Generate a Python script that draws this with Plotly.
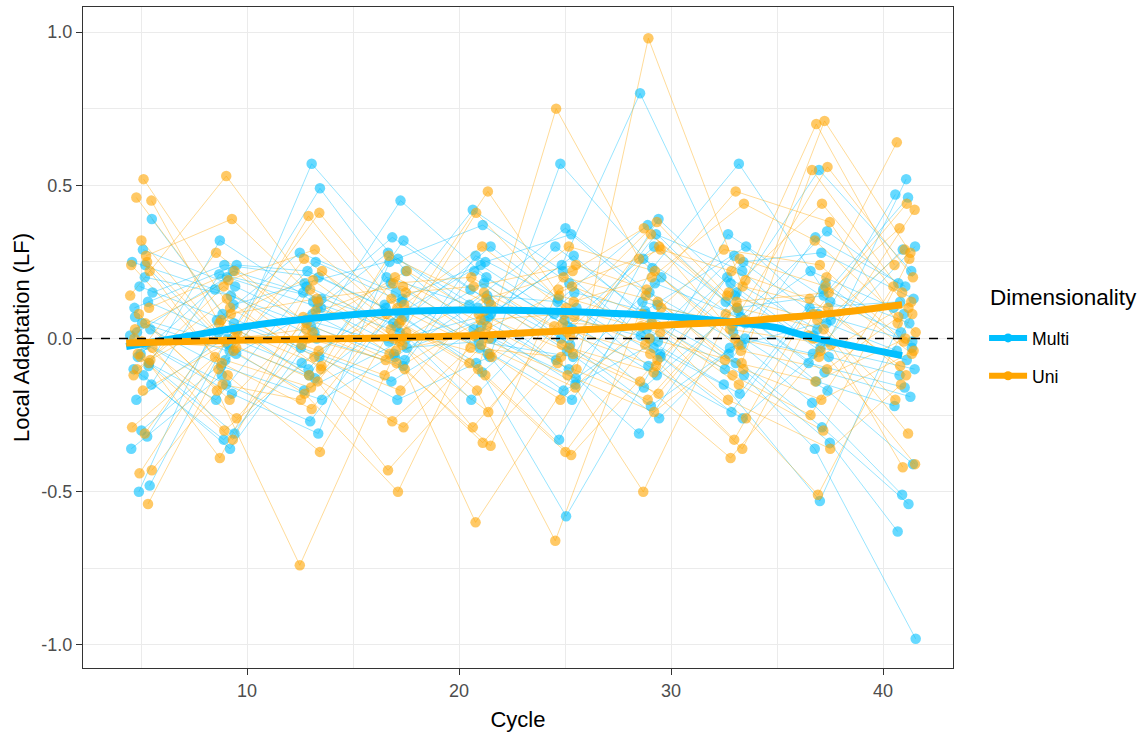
import plotly.graph_objects as go

# Sampling cycles
CYCLES = [5, 9, 13, 17, 21, 25, 29, 33, 37, 41]

# Local adaptation (LF) per cycle, multi-dimensional selection lines
MULTI_05 = [0.25, 0.2, 0.39, 0.17, 0.12, 0.07, 0.05, 0.03, 0.01, -0.02, -0.06, -0.08, -0.1, -0.12,
            -0.15, -0.2, -0.3, -0.32, -0.36, -0.48, -0.5, 0.24, 0.1, 0.15, -0.05, -0.09, 0.02, 0.29]
MULTI_09 = [0.24, 0.22, 0.32, 0.2, 0.17, 0.16, 0.14, 0.08, 0.05, 0.02, -0.02, -0.05, -0.09, -0.15,
            -0.18, -0.2, -0.31, -0.33, -0.36, 0.21, 0.03, -0.07, 0.11, -0.12, 0.0, 0.06, -0.04, 0.24]
MULTI_13 = [0.57, 0.49, 0.28, 0.25, 0.22, 0.2, 0.15, 0.12, 0.1, 0.06, 0.04, 0.0, -0.03, -0.06,
            -0.1, -0.13, -0.17, -0.2, -0.27, -0.31, 0.17, 0.08, -0.08, 0.02, 0.13, -0.12, 0.1, 0.18]
MULTI_17 = [0.45, 0.33, 0.32, 0.28, 0.26, 0.22, 0.18, 0.15, 0.12, 0.1, 0.07, 0.05, 0.02, -0.01,
            -0.03, -0.06, -0.09, -0.14, -0.2, 0.2, 0.08, 0.0, -0.05, 0.13, 0.25, 0.04, -0.07, 0.11]
MULTI_21 = [0.42, 0.37, 0.3, 0.27, 0.24, 0.2, 0.16, 0.12, 0.1, 0.06, 0.03, 0.0, -0.03, -0.05,
            -0.08, -0.11, -0.2, 0.18, 0.08, -0.01, 0.14, 0.22, 0.04, -0.06, 0.11, 0.25, 0.01, 0.07]
MULTI_25 = [0.57, 0.36, 0.34, 0.3, 0.27, 0.22, 0.18, 0.13, 0.1, 0.06, 0.03, 0.0, -0.04, -0.07,
            -0.1, -0.13, -0.17, -0.2, -0.33, -0.58, 0.15, 0.08, -0.02, 0.24, -0.06, 0.12, 0.04, -0.15]
MULTI_29 = [0.8, 0.39, 0.37, 0.3, 0.26, 0.2, 0.15, 0.11, 0.08, 0.05, 0.01, -0.03, -0.06, -0.09,
            -0.12, -0.16, -0.22, -0.26, -0.31, 0.18, 0.03, -0.01, 0.12, 0.23, -0.05, 0.09, 0.0, 0.34]
MULTI_33 = [0.57, 0.34, 0.3, 0.27, 0.22, 0.18, 0.15, 0.12, 0.09, 0.05, 0.02, -0.02, -0.05, -0.08,
            -0.12, -0.15, -0.18, -0.24, -0.26, 0.2, 0.1, 0.0, -0.03, 0.14, 0.07, -0.1, 0.25, 0.04]
MULTI_37 = [0.55, 0.35, 0.33, 0.28, 0.22, 0.16, 0.12, 0.08, 0.05, 0.01, -0.03, -0.06, -0.08, -0.11,
            -0.14, -0.17, -0.21, -0.29, -0.34, -0.36, -0.53, 0.18, 0.1, -0.01, 0.03, 0.14, -0.05, 0.06]
MULTI_41 = [0.52, 0.47, 0.46, 0.3, 0.29, 0.22, 0.18, 0.17, 0.13, 0.1, 0.05, 0.02, -0.01, -0.04,
            -0.07, -0.1, -0.12, -0.16, -0.19, -0.22, -0.41, -0.51, -0.54, -0.63, -0.98, 0.08, -0.03, 0.12]

# Local adaptation (LF) per cycle, uni-dimensional selection lines
UNI_05 = [0.52, 0.45, 0.46, 0.32, 0.25, 0.24, 0.22, 0.08, 0.05, 0.0, -0.03, -0.06, -0.08, -0.1,
          -0.17, -0.29, -0.31, -0.43, -0.44, -0.54, 0.03, -0.01, -0.07, 0.14, 0.27, -0.05, 0.1, -0.12]
UNI_09 = [0.53, 0.39, 0.28, 0.22, 0.17, 0.1, 0.05, 0.02, -0.01, -0.04, -0.08, -0.12, -0.17, -0.2,
          -0.26, -0.3, -0.33, -0.39, 0.13, 0.0, -0.06, 0.08, -0.15, 0.03, -0.1, 0.19, -0.03, 0.06]
UNI_13 = [0.41, 0.4, 0.29, 0.26, 0.22, 0.16, 0.12, 0.05, 0.02, -0.02, -0.06, -0.09, -0.12, -0.14,
          -0.18, -0.23, -0.37, -0.74, 0.09, 0.0, -0.04, 0.07, 0.19, -0.1, 0.03, -0.16, 0.13, -0.2]
UNI_17 = [0.27, 0.22, 0.2, 0.17, 0.13, 0.1, 0.08, 0.05, 0.02, 0.0, -0.02, -0.05, -0.08, -0.1,
          -0.12, -0.17, -0.27, -0.29, -0.43, -0.5, 0.15, 0.03, -0.04, 0.06, -0.07, 0.11, 0.18, -0.01]
UNI_21 = [0.48, 0.41, 0.3, 0.2, 0.15, 0.11, 0.08, 0.04, 0.01, -0.02, -0.05, -0.08, -0.12, -0.17,
          -0.24, -0.29, -0.34, -0.35, -0.6, 0.06, 0.13, -0.03, 0.0, -0.1, 0.09, 0.17, -0.06, 0.02]
UNI_25 = [0.75, 0.3, 0.24, 0.2, 0.17, 0.14, 0.1, 0.07, 0.04, 0.01, -0.02, -0.05, -0.08, -0.12,
          -0.16, -0.2, -0.37, -0.38, -0.66, 0.12, 0.05, -0.03, 0.16, -0.1, 0.08, 0.22, -0.06, 0.02]
UNI_29 = [0.98, 0.38, 0.36, 0.34, 0.3, 0.26, 0.22, 0.16, 0.12, 0.08, 0.05, 0.02, -0.02, -0.05,
          -0.09, -0.14, -0.18, -0.2, -0.24, -0.5, 0.1, 0.0, -0.07, 0.14, 0.2, 0.04, -0.11, 0.29]
UNI_33 = [0.48, 0.44, 0.29, 0.26, 0.22, 0.17, 0.14, 0.1, 0.06, 0.03, 0.0, -0.04, -0.07, -0.1,
          -0.12, -0.15, -0.2, -0.26, -0.33, -0.36, -0.39, 0.12, 0.08, -0.02, 0.19, 0.05, -0.08, 0.15]
UNI_37 = [0.71, 0.7, 0.56, 0.55, 0.44, 0.38, 0.32, 0.24, 0.17, 0.13, 0.1, 0.06, 0.03, 0.0,
          -0.02, -0.06, -0.1, -0.14, -0.2, -0.25, -0.3, -0.36, -0.51, 0.2, 0.08, -0.04, 0.15, 0.01]
UNI_41 = [0.64, 0.44, 0.42, 0.36, 0.29, 0.28, 0.24, 0.2, 0.15, 0.1, 0.05, 0.02, -0.01, -0.05,
          -0.09, -0.12, -0.2, -0.31, -0.41, -0.42, 0.12, 0.07, 0.0, -0.04, 0.17, 0.26, -0.15, 0.08]

MULTI = [MULTI_05, MULTI_09, MULTI_13, MULTI_17, MULTI_21, MULTI_25, MULTI_29, MULTI_33, MULTI_37, MULTI_41]
UNI = [UNI_05, UNI_09, UNI_13, UNI_17, UNI_21, UNI_25, UNI_29, UNI_33, UNI_37, UNI_41]

# Horizontal jitter applied to the cycle of each point
JITTER = [-0.42, 0.18, 0.51, -0.07, 0.33, -0.28, 0.05, 0.44, -0.51, 0.24, -0.15, 0.38, -0.35, 0.12,
          0.49, -0.22, 0.02, 0.29, -0.46, 0.41, -0.1, 0.2, -0.31, 0.54, -0.02, 0.36, -0.19, 0.09]

# Loess trend per dimensionality
MULTI_SMOOTH_X = [4.3, 7, 10, 13, 16, 20, 24, 28, 31, 34, 35, 36, 37, 39, 40.9]
MULTI_SMOOTH_Y = [-0.026, 0.005, 0.04, 0.065, 0.083, 0.093, 0.09, 0.08, 0.066, 0.045, 0.035, 0.015,
                  -0.002, -0.03, -0.056]
UNI_SMOOTH_X = [4.3, 10, 15, 20, 25, 30, 33, 36, 38, 40.9]
UNI_SMOOTH_Y = [-0.015, -0.005, 0.0, 0.008, 0.025, 0.045, 0.055, 0.072, 0.085, 0.11]

BLUE = "0,191,255"
ORANGE = "255,165,0"

fig = go.Figure()


def trajectories(values, shift):
    n = len(values[0])
    lx, ly, px, py = [], [], [], []
    for i in range(n):
        for c, cyc in enumerate(CYCLES):
            idx = (i * 11 + c * 5) % n
            x = cyc + JITTER[(idx + c * 3 + shift) % n]
            y = values[c][idx]
            lx.append(x)
            ly.append(y)
            px.append(x)
            py.append(y)
        lx.append(None)
        ly.append(None)
    return lx, ly, px, py


groups = [("Multi", MULTI, BLUE, 0), ("Uni", UNI, ORANGE, 13)]
built = [(name, col, trajectories(vals, shift)) for name, vals, col, shift in groups]

for name, col, (lx, ly, px, py) in built:
    fig.add_trace(go.Scatter(x=lx, y=ly, mode="lines", connectgaps=False,
                             line=dict(color=f"rgba({col},0.45)", width=0.9),
                             hoverinfo="skip", showlegend=False))
for name, col, (lx, ly, px, py) in built:
    fig.add_trace(go.Scatter(x=px, y=py, mode="markers",
                             marker=dict(color=f"rgba({col},0.6)", size=10.5, line=dict(width=0)),
                             showlegend=False, name=name))

fig.add_trace(go.Scatter(x=MULTI_SMOOTH_X, y=MULTI_SMOOTH_Y, mode="lines", line_shape="spline",
                         line=dict(color=f"rgb({BLUE})", width=7), showlegend=False))
fig.add_trace(go.Scatter(x=UNI_SMOOTH_X, y=UNI_SMOOTH_Y, mode="lines", line_shape="spline",
                         line=dict(color=f"rgb({ORANGE})", width=7), showlegend=False))

# legend keys
for name, col in [("Multi", BLUE), ("Uni", ORANGE)]:
    fig.add_trace(go.Scatter(x=[None], y=[None], mode="lines+markers", name=name, legendgroup=name,
                             line=dict(color=f"rgb({col})", width=6),
                             marker=dict(color=f"rgb({col})", size=9)))

fig.add_shape(type="line", xref="paper", x0=0, x1=1, yref="y", y0=0, y1=0,
              line=dict(color="black", width=1.3, dash="dash"), layer="above")

fig.add_annotation(text="Dimensionality", xref="paper", yref="paper", x=1.0402, y=0.5598,
                   xanchor="left", yanchor="middle", showarrow=False,
                   font=dict(size=22.5, color="black"))

axis_common = dict(
    showline=True, mirror=True, linecolor="#333333", linewidth=1.3,
    ticks="outside", ticklen=6, tickwidth=1.3, tickcolor="#333333",
    tickfont=dict(size=18, color="#4D4D4D"),
    showgrid=True, gridcolor="#EBEBEB", gridwidth=1.3, zeroline=False,
)

fig.update_layout(
    width=1148, height=735,
    margin=dict(l=83, r=195, t=7, b=67),
    paper_bgcolor="white", plot_bgcolor="white",
    font=dict(family="Liberation Sans, Arial, sans-serif", color="black"),
    xaxis=dict(range=[2.264, 43.30], tickvals=[10, 20, 30, 40],
               title=dict(text="Cycle", font=dict(size=22), standoff=11),
               minor=dict(dtick=5, tick0=0, showgrid=True, gridcolor="#EBEBEB", gridwidth=0.7, ticks=""),
               **axis_common),
    yaxis=dict(range=[-1.0752, 1.0817], tickvals=[-1.0, -0.5, 0.0, 0.5, 1.0],
               ticktext=["-1.0", "-0.5", "0.0", "0.5", "1.0"],
               title=dict(text="Local Adaptation (LF)", font=dict(size=22), standoff=5),
               minor=dict(dtick=0.25, tick0=0, showgrid=True, gridcolor="#EBEBEB", gridwidth=0.7, ticks=""),
               **axis_common),
    legend=dict(font=dict(size=17.6), x=1.0357, xanchor="left", y=0.5265, yanchor="top",
                tracegroupgap=12, itemwidth=38, bgcolor="rgba(0,0,0,0)"),
)

fig.write_html("out.html")
